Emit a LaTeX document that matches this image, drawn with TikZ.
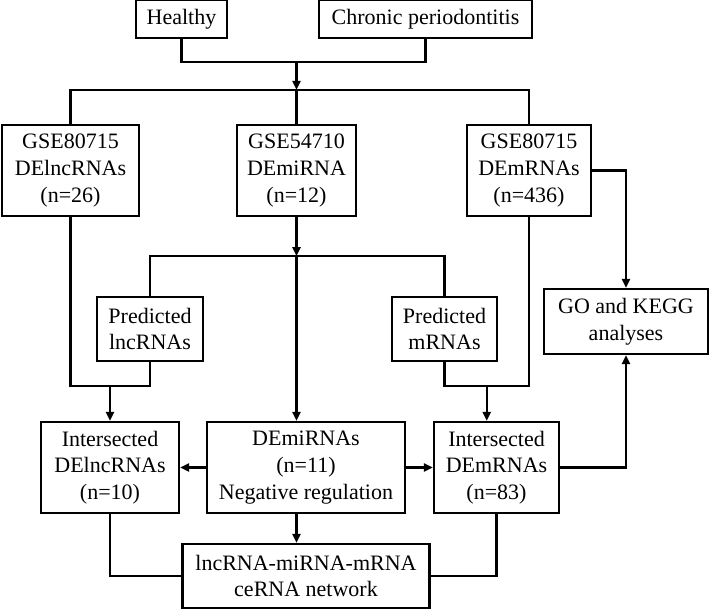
\documentclass[tikz,border=0pt]{standalone}
\usepackage{fontspec}
\setmainfont{Liberation Serif}
\usetikzlibrary{arrows.meta,calc}
\usetikzlibrary{positioning}
\tikzset{
    stage/.style={
           rectangle,
           draw=black,
           line width=2.3pt,
           inner sep=2pt,
           align=center,
           font=\fontsize{22pt}{26.7pt}\selectfont,
           },
}

\begin{document}
\begin{tikzpicture}[->,>={Triangle[length=9pt,width=8pt]},line width=2.2pt,on grid]

 \useasboundingbox (0,0) rectangle (709pt,-610pt);

 \node[stage, minimum width=91pt, minimum height=38pt]
   (HEALTHY) at (181.5pt,-19pt) {Healthy};

 \node[stage,
 minimum width=213pt, minimum height=38pt,
 right=244pt of HEALTHY,
 ] (CHRONIC) {Chronic periodontitis};

 \node[stage,
 minimum width=119pt, minimum height=91pt,
 below right=151.5pt and 115pt of HEALTHY,
 ] (GSEMI)
 {GSE54710\\ DEmiRNA\\ (n=12)};

 \node[stage,
 minimum width=137pt, minimum height=91pt,
 left=226pt of GSEMI,
 ] (GSELNC)
 {GSE80715\\ DElncRNAs\\ (n=26)};

 \node[stage,
 minimum width=124pt, minimum height=91pt,
 right=232.5pt of GSEMI,
 ] (GSEM)
 {GSE80715\\ DEmRNAs\\ (n=436)};

 \node[stage,
 minimum width=106pt, minimum height=64pt,
 below left=158.5pt and 146.5pt of GSEMI,
 ] (PREDL)
 {Predicted\\ lncRNAs};

 \node[stage,
 minimum width=105pt, minimum height=64pt,
 below right=158.5pt and 148pt of GSEMI,
 ] (PREDM)
 {Predicted\\ mRNAs};

 \node[stage,
 minimum width=164pt, minimum height=65pt,
 below right=151pt and 97pt of GSEM,
 ] (GO)
 {GO and KEGG\\ analyses};

 \node[stage,
 minimum width=198pt, minimum height=91pt,
 below right=297pt and 9.5pt of GSEMI,
 ] (DEMIR)
 {DEmiRNAs\\ (n=11)\\ Negative regulation};

 \node[stage,
 minimum width=138pt, minimum height=91pt,
 left=196pt of DEMIR,
 ] (INTERL)
 {Intersected\\ DElncRNAs\\ (n=10)};

 \node[stage,
 minimum width=125pt, minimum height=91pt,
 right=190.5pt of DEMIR,
 ] (INTERM)
 {Intersected\\ DEmRNAs\\ (n=83)};

 \node[stage,
 minimum width=247pt, minimum height=64pt,
 below=108.5pt of DEMIR,
 ] (CERNA)
 {lncRNA-miRNA-mRNA\\ ceRNA network};

 % joints
 \coordinate[above=34pt of GSEMI.north] (BUSA);
 \coordinate[above=28pt of BUSA] (JOINA);
 \coordinate[below=39pt of GSEMI.south] (BUSB);
 \coordinate[below=24pt of PREDL.south] (JOINL);
 \coordinate[below=24pt of PREDM.south] (JOINR);
 \coordinate (JOINRM) at ($(JOINR)!0.5!(GSEM.south |- JOINR)$);

 \draw[-] (HEALTHY.south) |- (JOINA) -| (CHRONIC.south);
 \draw (JOINA) -- (BUSA);
 \draw[-] (GSELNC.north) |- (BUSA) -| (GSEM.north);
 \draw[-] (BUSA) -- (GSEMI.north);

 \draw (GSEMI.south) -- (BUSB);
 \draw[-] (PREDL.north) |- (BUSB) -| (PREDM.north);
 \draw (BUSB) -- (BUSB |- DEMIR.north);

 \draw[-] (GSELNC.south) |- (JOINL) -- (PREDL.south);
 \draw (INTERL.north |- JOINL) -- (INTERL.north);
 \draw[-] (GSEM.south) |- (JOINR) -- (PREDM.south);
 \draw (JOINRM) -- (JOINRM |- INTERM.north);

 \path (DEMIR) edge (INTERL)
   (DEMIR) edge (INTERM)
   (BUSB |- DEMIR.south) edge (BUSB |- CERNA.north);
 \draw (GSEM) -| (GO);
 \draw (INTERM) -| (GO);
 \draw[-] (INTERL) |- (CERNA);
 \draw[-] (INTERM) |- (CERNA);
\end{tikzpicture}
\end{document}
